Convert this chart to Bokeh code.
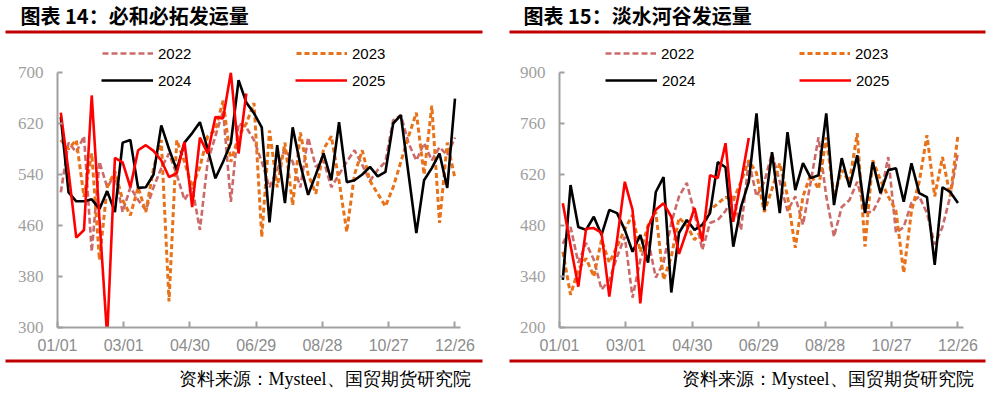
from bokeh.plotting import figure
from bokeh.models import Legend, LegendItem, FixedTicker, Range1d
from bokeh.core.properties import value
from bokeh.layouts import row, column
from bokeh.embed import file_html
from bokeh.resources import INLINE

years = ["2022", "2023", "2024", "2025"]
tick_days = [0, 60, 120, 180, 240, 300, 360]
tick_labels = ["01/01", "03/01", "04/30", "06/29", "08/28", "10/27", "12/26"]
titles = ["图表 14：必和必拓发运量", "图表 15：淡水河谷发运量"]
source = "资料来源：Mysteel、国贸期货研究院"

# 必和必拓 (BHP) weekly shipments
bhp_2022 = [512, 590, 575, 600, 419, 560, 520, 540, 481, 520, 500, 484, 520, 550, 573, 540,
            500, 520, 453, 560, 600, 640, 497, 620, 614, 594, 560, 520, 547, 580, 560, 520,
            598, 552, 562, 520, 540, 560, 578, 555, 530, 547, 560, 625, 633, 589, 562, 589,
            562, 583, 570, 598]
bhp_2023 = [594, 580, 594, 505, 573, 406, 520, 545, 500, 476, 520, 481, 550, 594, 341, 594,
            560, 520, 552, 600, 610, 656, 560, 600, 620, 652, 442, 609, 520, 590, 492, 606,
            540, 510, 580, 600, 530, 450, 540, 578, 530, 510, 490, 520, 560, 600, 637, 540,
            648, 464, 590, 534]
bhp_2024 = [630, 512, 498, 498, 501, 486, 514, 481, 590, 594, 519, 520, 540, 617, 580, 547,
            590, 605, 622, 580, 534, 560, 589, 688, 653, 636, 614, 465, 586, 495, 614, 555,
            508, 540, 573, 531, 622, 528, 531, 540, 552, 537, 544, 620, 633, 540, 448, 531,
            550, 573, 519, 659]
bhp_2025 = [637, 545, 441, 453, 664, 470, 285, 566, 559, 520, 578, 586, 577, 562, 536, 542,
            591, 489, 598, 573, 630, 628, 700, 573, 667]

# 淡水河谷 (Vale) weekly shipments
vale_2022 = [430, 476, 378, 432, 386, 304, 330, 394, 449, 282, 386, 440, 337, 378, 487, 560,
             597, 514, 413, 487, 495, 520, 560, 468, 659, 560, 600, 678, 600, 520, 560, 482,
             600, 722, 560, 449, 531, 550, 600, 517, 517, 560, 668, 460, 476, 542, 560, 514,
             428, 476, 560, 681]
vale_2023 = [408, 290, 359, 390, 340, 441, 378, 422, 470, 509, 408, 480, 517, 331, 394, 501,
             480, 441, 468, 523, 540, 558, 550, 600, 659, 624, 517, 580, 651, 560, 419, 560,
             620, 580, 722, 560, 632, 600, 733, 422, 659, 605, 560, 520, 350, 520, 600, 728,
             560, 668, 560, 728]
vale_2024 = [331, 591, 476, 468, 504, 454, 523, 514, 468, 408, 454, 378, 572, 613, 296, 460,
             495, 468, 482, 514, 654, 640, 422, 531, 600, 788, 522, 681, 514, 736, 577, 651,
             610, 618, 788, 536, 665, 585, 673, 514, 654, 569, 632, 637, 545, 651, 569, 558,
             372, 585, 572, 542]
vale_2025 = [541, 425, 312, 471, 473, 460, 285, 440, 600, 523, 266, 476, 523, 541, 504, 402,
             465, 528, 436, 618, 610, 706, 490, 600, 720]

colors = {"2022": "#CC6A6A", "2023": "#E8721A", "2024": "#000000", "2025": "#FF0000"}
dashes = {"2022": "6 3", "2023": "5 3", "2024": "solid", "2025": "solid"}
widths = {"2022": 2.6, "2023": 3.0, "2024": 2.6, "2025": 2.6}
RED = "#C00000"
W = 991


def days(vals):
    return [3 + 7 * i for i in range(len(vals))]


def make_legend(items, x, y, glyph_w, gap):
    return Legend(items=items, location=(x, y), orientation="horizontal",
                  glyph_width=glyph_w, glyph_height=18, label_height=18,
                  label_width=gap - glyph_w - 5 - 6, label_standoff=5, spacing=6,
                  padding=0, margin=0, border_line_color=None, background_fill_alpha=0,
                  label_text_font="Liberation Sans", label_text_font_size="15px",
                  label_text_color="#000000")


def blank(height):
    p = figure(width=W, height=height, output_backend="svg", toolbar_location=None,
               x_range=Range1d(0, W), y_range=Range1d(0, height),
               x_axis_type=None, y_axis_type=None, min_border=0)
    p.outline_line_color = None
    p.xgrid.visible = False
    p.ygrid.visible = False
    p.background_fill_color = "white"
    p.border_fill_color = "white"
    return p


# ---------- header: titles, red rules, first legend row ----------
hdr = blank(64)
hdr.text(x=[20, 523], y=[49, 49], text=titles, text_font=value("Noto Sans CJK SC"),
         text_font_style="bold", text_font_size="20px", text_baseline="middle",
         text_color="#000000")
hdr.quad(left=[5, 509], right=[482, 985], bottom=[31, 31], top=[34, 34],
         fill_color=RED, line_color=None)
for lx in [102, 605]:
    its = []
    for yr in ["2022", "2023"]:
        # legend-only renderers, kept outside the visible header area
        r = hdr.line([-50, -40], [-50, -50], line_color=colors[yr], line_width=widths[yr],
                     line_dash=dashes[yr])
        its.append(LegendItem(label=yr, renderers=[r]))
    hdr.add_layout(make_legend(its, lx, 2, 51, 194), "center")

# ---------- footer: red rules, source ----------
ftr = blank(38)
ftr.quad(left=[5, 509], right=[482, 985], bottom=[32, 32], top=[35, 35],
         fill_color=RED, line_color=None)
ftr.text(x=[470, 973], y=[16, 16], text=[source, source],
         text_font=value("Liberation Serif"), text_font_size="18px",
         text_align="right", text_baseline="middle", text_color="#000000")


def build(width, bl, br, ymin, ymax, ystep, series, leg_x):
    p = figure(width=width, height=292, output_backend="svg", toolbar_location=None,
               x_range=Range1d(0, 365), y_range=Range1d(ymin, ymax),
               min_border_left=bl, min_border_right=br, min_border_top=8,
               min_border_bottom=28)
    p.outline_line_color = None
    p.background_fill_color = "white"
    p.border_fill_color = "white"
    p.xgrid.visible = False
    p.ygrid.visible = False

    xa = p.xaxis[0]
    xa.ticker = FixedTicker(ticks=tick_days)
    xa.major_label_overrides = {d: l for d, l in zip(tick_days, tick_labels)}
    xa.minor_tick_line_color = None
    xa.major_tick_in = 6
    xa.major_tick_out = 0
    xa.axis_line_color = "#A0A0A0"
    xa.axis_line_width = 2
    xa.major_tick_line_color = "#A0A0A0"
    xa.major_tick_line_width = 2
    xa.major_label_text_font = "Liberation Sans"
    xa.major_label_text_font_size = "16px"
    xa.major_label_text_color = "#8C8C8C"
    xa.major_label_standoff = 9

    ya = p.yaxis[0]
    ya.ticker = FixedTicker(ticks=list(range(ymin, ymax + 1, ystep)))
    ya.minor_tick_line_color = None
    ya.major_tick_in = 5
    ya.major_tick_out = 0
    ya.axis_line_color = "#A0A0A0"
    ya.axis_line_width = 2
    ya.major_tick_line_color = "#A0A0A0"
    ya.major_tick_line_width = 2
    ya.major_label_text_font = "Liberation Serif"
    ya.major_label_text_font_size = "17px"
    ya.major_label_text_color = "#A0A0A0"
    ya.major_label_standoff = 14

    items = []
    for yr, vals in zip(years, series):
        r = p.line(days(vals), vals, line_color=colors[yr], line_width=widths[yr],
                   line_dash=dashes[yr])
        items.append(LegendItem(label=yr, renderers=[r]))
    p.add_layout(make_legend(items[2:], leg_x, 238, 52, 194), "center")
    return p


p1 = build(495, 57, 35, 300, 700, 80, [bhp_2022, bhp_2023, bhp_2024, bhp_2025], 44)
p2 = build(496, 64, 28, 200, 900, 140, [vale_2022, vale_2023, vale_2024, vale_2025], 46)

layout = column(hdr, row(p1, p2), ftr)
open("out.html", "w").write(file_html(layout, INLINE))
